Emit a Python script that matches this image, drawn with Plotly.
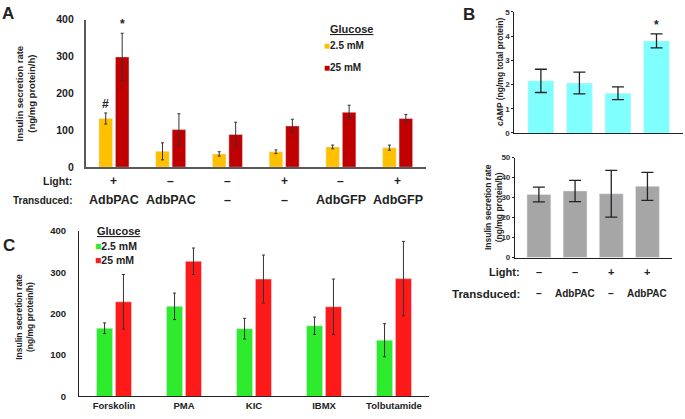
import plotly.graph_objects as go

W, H = 685, 419

# ---------------- data ----------------
# Panel A
a_light = ["+", "–", "–", "+", "–", "+"]
a_transduced = ["AdbPAC", "AdbPAC", "–", "–", "AdbGFP", "AdbGFP"]
a_low = [132, 43, 36, 42, 55, 53]
a_low_err = [15, 23, 6, 5, 5, 7]
a_high = [299, 102, 89, 112, 149, 132]
a_high_err = [64, 43, 33, 18, 19, 11]
a_ticks = [0, 100, 200, 300, 400]

# Panel B
b_light = ["–", "–", "+", "+"]
b_transduced = ["–", "AdbPAC", "–", "AdbPAC"]
b_camp = [2.15, 2.06, 1.64, 3.80]
b_camp_err = [0.48, 0.45, 0.26, 0.29]
b_ins = [31.5, 33.3, 31.9, 35.6]
b_ins_err = [3.7, 5.3, 11.7, 7.0]

# Panel C
c_cats = ["Forskolin", "PMA", "KIC", "IBMX", "Tolbutamide"]
c_low = [165, 218, 164, 171, 136]
c_low_err = [13, 32, 25, 21, 40]
c_high = [229, 327, 284, 217, 285]
c_high_err = [66, 32, 58, 67, 90]

FONT = "Arial, Liberation Sans, sans-serif"
YEL, DRED = "#FFC000", "#C00000"
GRN, RED = "#2EEB2E", "#FF1A1A"
CYAN, GRAY = "#80FFFF", "#A6A6A6"


def px(x):
    return x / W


def py(y):
    return 1 - y / H


fig = go.Figure()

ax_idx = list(range(len(a_low)))
b_idx = list(range(len(b_camp)))

# Panel A bars
fig.add_trace(go.Bar(x=ax_idx, y=a_low, width=0.24, offset=-0.265, marker_color=YEL,
                     error_y=dict(type="data", array=a_low_err, color="#333", thickness=1, width=1.5),
                     xaxis="x", yaxis="y", showlegend=False))
fig.add_trace(go.Bar(x=ax_idx, y=a_high, width=0.24, offset=0.025, marker_color=DRED,
                     error_y=dict(type="data", array=a_high_err, color="#333", thickness=1, width=1.5),
                     xaxis="x", yaxis="y", showlegend=False))

# Panel B top
fig.add_trace(go.Bar(x=b_idx, y=b_camp, width=0.67, marker_color=CYAN,
                     error_y=dict(type="data", array=b_camp_err, color="#222", thickness=1.3, width=6),
                     xaxis="x2", yaxis="y2", showlegend=False))
# Panel B bottom
fig.add_trace(go.Bar(x=b_idx, y=b_ins, width=0.66, marker_color=GRAY,
                     error_y=dict(type="data", array=b_ins_err, color="#222", thickness=1.3, width=6),
                     xaxis="x3", yaxis="y3", showlegend=False))

# Panel C
fig.add_trace(go.Bar(x=c_cats, y=c_low, width=0.23, offset=-0.25, marker_color=GRN,
                     error_y=dict(type="data", array=c_low_err, color="#333", thickness=1, width=1.5),
                     xaxis="x4", yaxis="y4", showlegend=False))
fig.add_trace(go.Bar(x=c_cats, y=c_high, width=0.23, offset=0.02, marker_color=RED,
                     error_y=dict(type="data", array=c_high_err, color="#333", thickness=1, width=1.5),
                     xaxis="x4", yaxis="y4", showlegend=False))

axline = dict(showline=True, linecolor="#595959", linewidth=1.5, showgrid=False, zeroline=False)

fig.update_layout(
    width=W, height=H, margin=dict(l=0, r=0, t=0, b=0),
    paper_bgcolor="white", plot_bgcolor="white", barmode="overlay",
    font=dict(family=FONT, color="#222"),
    xaxis=dict(domain=[px(85.6), px(426)], range=[-0.5, 5.5], showticklabels=False, ticks="",
               anchor="y", **axline),
    yaxis=dict(domain=[py(166), py(14)], range=[0, 400], tickvals=a_ticks, ticks="",
               tickfont=dict(family=FONT, size=10.5, color="#222", weight="bold"), ticklabelstandoff=8,
               anchor="x", **axline),
    xaxis2=dict(domain=[px(514.3), px(682.7)], range=[-0.69, 3.68], showticklabels=False, ticks="",
                anchor="y2", showline=True, linecolor="#222", linewidth=1.2, showgrid=False, zeroline=False),
    yaxis2=dict(domain=[py(130.7), py(6)], range=[0, 5], dtick=1, ticks="outside", ticklen=2,
                tickcolor="#222", tickfont=dict(family=FONT, size=8, color="#333", weight="bold"),
                anchor="x2", showline=True, linecolor="#222", linewidth=1.2, showgrid=False, zeroline=False),
    xaxis3=dict(domain=[px(515), px(671.7)], range=[-0.66, 3.67], showticklabels=False, ticks="",
                anchor="y3", showline=True, linecolor="#222", linewidth=1.2, showgrid=False, zeroline=False),
    yaxis3=dict(domain=[py(259), py(156)], range=[0, 50], dtick=10, ticks="outside", ticklen=2,
                tickcolor="#222", tickfont=dict(family=FONT, size=8, color="#333", weight="bold"),
                anchor="x3", showline=True, linecolor="#222", linewidth=1.2, showgrid=False, zeroline=False),
    xaxis4=dict(domain=[px(79), px(429)], range=[-0.5, 4.5], ticks="",
                tickfont=dict(family=FONT, size=9.5, color="#222", weight="bold"),
                anchor="y4", showline=True, linecolor="#222", linewidth=1.2, showgrid=False, zeroline=False),
    yaxis4=dict(domain=[py(402), py(231.7)], range=[0, 400], tickvals=a_ticks, ticks="",
                tickfont=dict(family=FONT, size=9.5, color="#222", weight="bold"), ticklabelstandoff=10,
                anchor="x4", showline=True, linecolor="#222", linewidth=1.2, showgrid=False, zeroline=False),
)

ann = []


def T(text, x, y, size, xref="paper", yref="paper", xanchor="center", yanchor="middle",
      bold=True, angle=0, color="#222"):
    ann.append(dict(text=f"<b>{text}</b>" if bold else text, x=x, y=y, xref=xref, yref=yref,
                    xanchor=xanchor, yanchor=yanchor, showarrow=False, textangle=angle,
                    font=dict(family=FONT, size=size, color=color)))


# Panel letters
T("A", px(0), py(8), 17, xanchor="left")
T("B", px(461), py(9), 17, xanchor="left")
T("C", px(1), py(247), 17, xanchor="left")

# Panel A texts
T("Insulin secretion rate<br>(ng/mg protein/h)", px(25), py(90), 9.5, angle=-90)
T("Light:", px(74), py(180), 10.5, xanchor="right")
T("Transduced:", px(74), py(200), 10, xanchor="right")
for i, (l, t) in enumerate(zip(a_light, a_transduced)):
    T(l, i, py(180), 12, xref="x")
    T(t, i, py(200), 12.5, xref="x")
T("#", -0.145, a_low[0] + a_low_err[0], 12, xref="x", yref="y", yanchor="bottom")
T("*", 0.145, a_high[0] + a_high_err[0], 12, xref="x", yref="y", yanchor="bottom")
T("<u>Glucose</u>", px(328), py(24), 11, xanchor="left")
T(f"<span style='color:{YEL}'>■</span>2.5 mM", px(322), py(41), 10, xanchor="left")
T(f"<span style='color:{DRED}'>■</span>25 mM", px(322), py(63), 10, xanchor="left")

# Panel B texts
T("cAMP (ng/mg total protein)", px(500), py(68), 8.5, angle=-90)
T("*", 3, b_camp[3] + b_camp_err[3], 12, xref="x2", yref="y2", yanchor="bottom")
T("Insulin secretion rate<br>(ng/mg protein/h)", px(493), py(207), 8.5, angle=-90)
T("Light:", px(522), py(274), 11, xanchor="right")
T("Transduced:", px(522), py(296), 11.5, xanchor="right")
for i, (l, t) in enumerate(zip(b_light, b_transduced)):
    T(l, i, py(274), 11, xref="x3")
    T(t, i, py(296), 10, xref="x3")

# Panel C texts
T("Insulin secretion rate<br>(ng/mg protein/h)", px(25), py(320), 8.5, angle=-90)
T("<u>Glucose</u>", px(95), py(232), 11, xanchor="left")
T(f"<span style='color:{GRN}'>■</span>2.5 mM", px(93), py(247), 10.5, xanchor="left")
T(f"<span style='color:{RED}'>■</span>25 mM", px(93), py(262), 10.5, xanchor="left")

fig.update_layout(annotations=ann)
fig.write_html("out.html", config={"displayModeBar": False},
               post_script="document.body.style.margin='0';document.body.style.overflow='hidden';")
